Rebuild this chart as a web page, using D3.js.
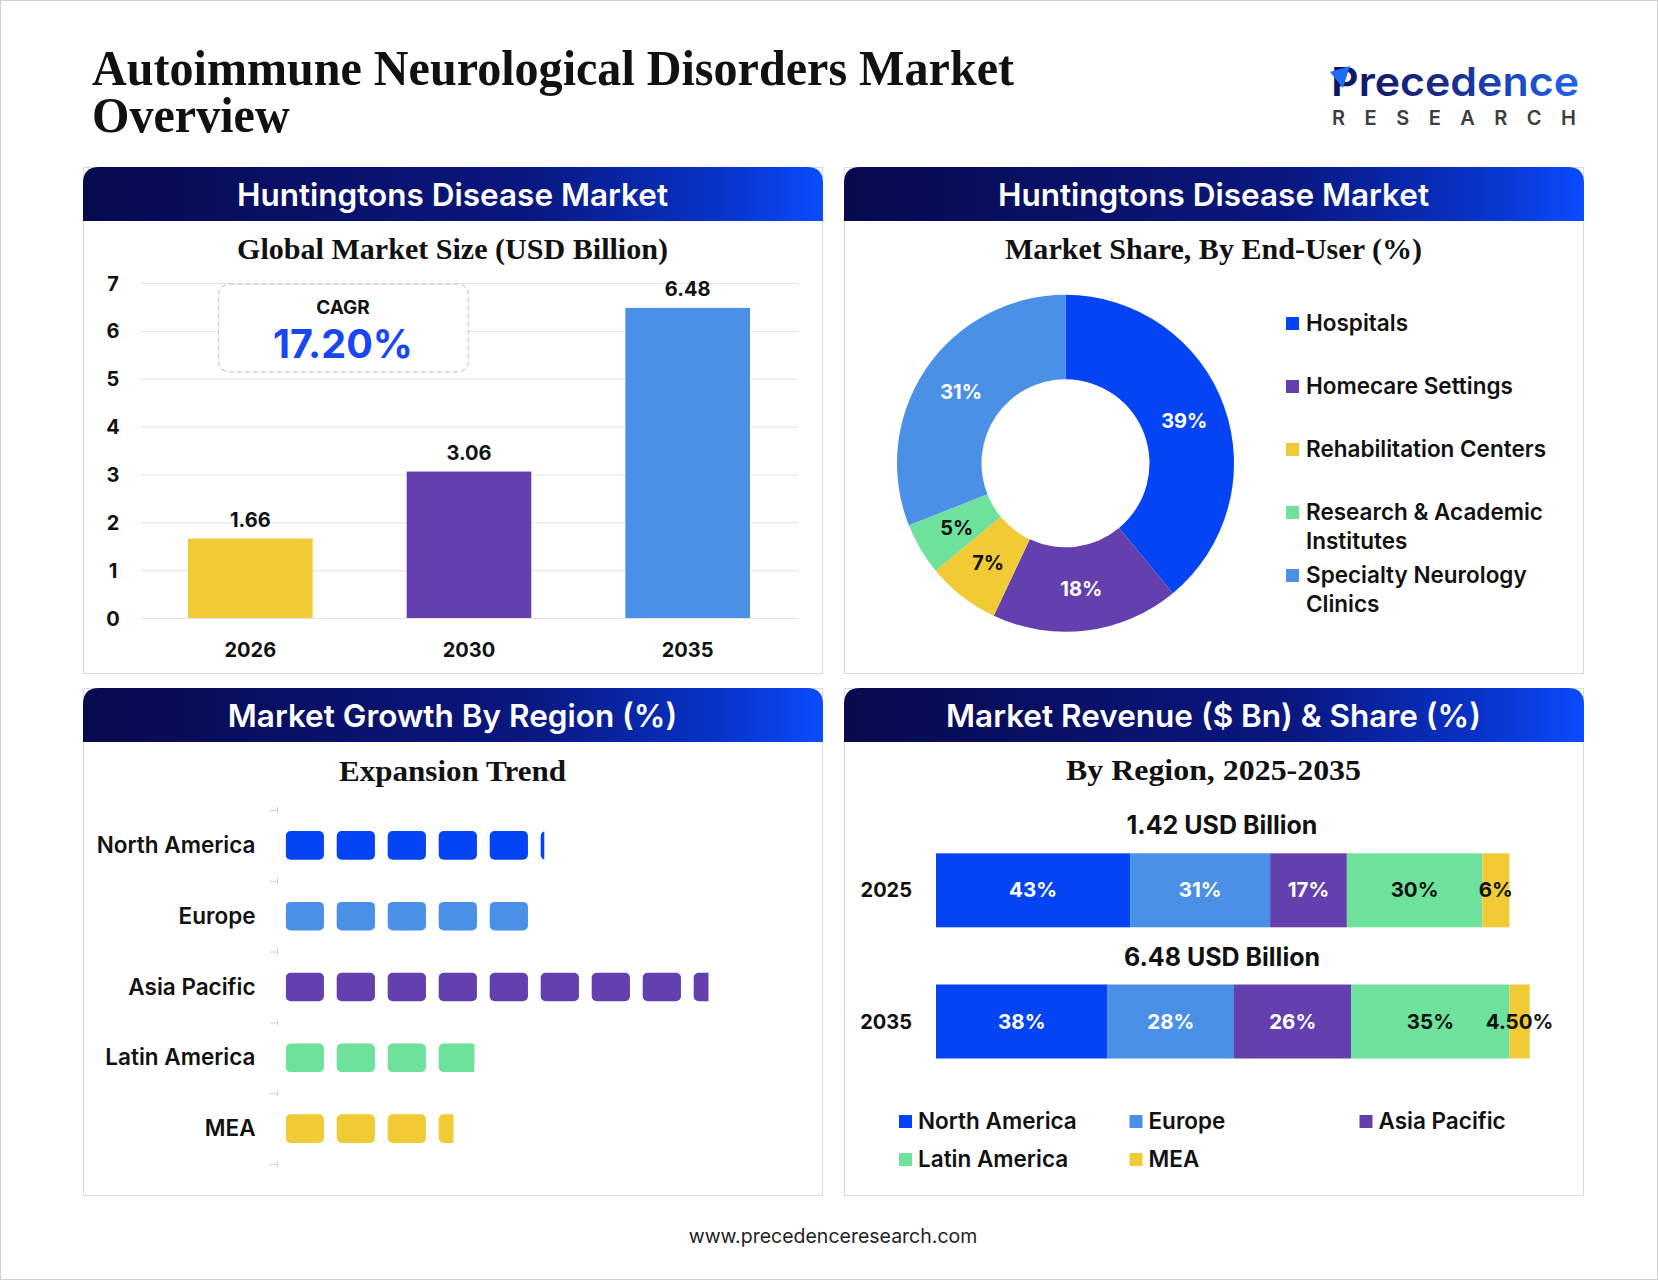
<!DOCTYPE html>
<html><head><meta charset="utf-8">
<script src="https://cdn.jsdelivr.net/npm/d3@7"></script>
<style>body{margin:0;background:#fff}svg{display:block}</style>
</head><body><svg id="c" width="1658" height="1280"></svg>
<script>
// ---------------- DATA ----------------
const mainTitle = ["Autoimmune Neurological Disorders Market", "Overview"];
const panelTitles = ["Huntingtons Disease Market", "Huntingtons Disease Market", "Market Growth By Region (%)", "Market Revenue ($ Bn) & Share (%)"];
const panelSubtitles = ["Global Market Size (USD Billion)", "Market Share, By End-User (%)", "Expansion Trend", "By Region, 2025-2035"];

const marketYears = ["2026", "2030", "2035"];
const marketSize = [1.66, 3.06, 6.48];
const marketTicks = [0, 1, 2, 3, 4, 5, 6, 7];
const cagrLabel = "CAGR";
const cagrValue = "17.20%";

const endUsers = ["Hospitals", "Homecare Settings", "Rehabilitation Centers", "Research & Academic Institutes", "Specialty Neurology Clinics"];
const endUserShare = [39, 18, 7, 5, 31];

const growthRegions = ["North America", "Europe", "Asia Pacific", "Latin America", "MEA"];
const regionGrowth = [5.07, 4.85, 8.29, 3.70, 3.29];

const revenueYears = ["2025", "2035"];
const revenueTotals = ["1.42 USD Billion", "6.48 USD Billion"];
const shareRegions = ["North America", "Europe", "Asia Pacific", "Latin America", "MEA"];
const regionShare2025 = [43, 31, 17, 30, 6];
const regionShare2035 = [38, 28, 26, 35, 4.5];

const footerText = "www.precedenceresearch.com";

// ---------------- STYLES ----------------
const C = {blue: "#0544F5", light: "#4A90E6", purple: "#6340AD", mint: "#6EE29C", yellow: "#F0CB36", dark: "#111"};
const barColors = [C.yellow, C.purple, C.light];
const endUserColors = [C.blue, C.purple, C.yellow, C.mint, C.light];
const endUserTextColors = ["#fff", "#fff", C.dark, C.dark, "#fff"];
const regionColors = [C.blue, C.light, C.purple, C.mint, C.yellow];
const regionTextColors = ["#fff", "#fff", "#fff", C.dark, C.dark];
const SANS = "Inter, 'Open Sans', 'Liberation Sans', sans-serif";
const SERIF = "'Liberation Serif', 'DejaVu Serif', serif";

const svg = d3.select("#c");
const defs = svg.append("defs");

// outer border
svg.append("rect").attr("x", 0.5).attr("y", 0.5).attr("width", 1657).attr("height", 1279)
  .attr("fill", "#fff").attr("stroke", "#d0d0d0");

// ---------------- TITLE ----------------
const t1 = svg.append("text").attr("x", 92).attr("y", 85).attr("font-family", SERIF)
  .attr("font-weight", 700).attr("font-size", 50).attr("fill", "#111").text(mainTitle[0]);
const w1 = t1.node().getComputedTextLength();
const ratio = 922 / w1;
t1.attr("textLength", 922).attr("lengthAdjust", "spacingAndGlyphs");
const t2 = svg.append("text").attr("x", 92).attr("y", 132).attr("font-family", SERIF)
  .attr("font-weight", 700).attr("font-size", 50).attr("fill", "#111").text(mainTitle[1]);
t2.attr("textLength", t2.node().getComputedTextLength() * ratio).attr("lengthAdjust", "spacingAndGlyphs");

// ---------------- LOGO ----------------
const lg = defs.append("linearGradient").attr("id", "logoGrad").attr("x1", 0).attr("x2", 1).attr("y1", 0).attr("y2", 0);
lg.append("stop").attr("offset", 0).attr("stop-color", "#0b1460");
lg.append("stop").attr("offset", 0.45).attr("stop-color", "#1b2a8a");
lg.append("stop").attr("offset", 1).attr("stop-color", "#1f63f0");
svg.append("text").attr("x", 1331).attr("y", 96).attr("font-family", SANS).attr("font-weight", 600)
  .attr("font-size", 40).attr("fill", "url(#logoGrad)").attr("textLength", 248).attr("lengthAdjust", "spacingAndGlyphs")
  .text("Precedence");
svg.append("path").attr("d", "M1330,72 L1350,66 L1343,88 Z").attr("fill", "#1f6df5");
svg.append("text").attr("x", 1332).attr("y", 125).attr("font-family", SANS).attr("font-weight", 600)
  .attr("font-size", 20).attr("fill", "#3d3d3d").attr("textLength", 244).attr("lengthAdjust", "spacing")
  .text("RESEARCH");

// ---------------- PANELS ----------------
const panels = [
  {x: 83, y: 167, w: 739, h: 506},
  {x: 844, y: 167, w: 739, h: 506},
  {x: 83, y: 688, w: 739, h: 507},
  {x: 844, y: 688, w: 739, h: 507}
];
const hg = defs.append("linearGradient").attr("id", "headGrad").attr("x1", 0).attr("x2", 1).attr("y1", 0).attr("y2", 0);
hg.append("stop").attr("offset", 0).attr("stop-color", "#080a4e");
hg.append("stop").attr("offset", 0.6).attr("stop-color", "#0a177f");
hg.append("stop").attr("offset", 0.86).attr("stop-color", "#0833c8");
hg.append("stop").attr("offset", 1).attr("stop-color", "#0a4cff");
const HH = 54, R = 16;
panels.forEach((p, i) => {
  svg.append("rect").attr("x", p.x + 0.5).attr("y", p.y + 0.5).attr("width", p.w).attr("height", p.h)
    .attr("fill", "#fff").attr("stroke", "#dadada");
  const d = `M${p.x},${p.y + HH} L${p.x},${p.y + R} Q${p.x},${p.y} ${p.x + R},${p.y} L${p.x + p.w + 1 - R},${p.y} Q${p.x + p.w + 1},${p.y} ${p.x + p.w + 1},${p.y + R} L${p.x + p.w + 1},${p.y + HH} Z`;
  svg.append("path").attr("d", d).attr("fill", "url(#headGrad)");
  svg.append("text").attr("x", p.x + p.w / 2).attr("y", p.y + 38.5).attr("text-anchor", "middle")
    .attr("font-family", SANS).attr("font-weight", 600).attr("font-size", 31.5).attr("fill", "#fff")
    .text(panelTitles[i]);
});
const subW = [431, 417, 227, 295];
const subY = [259, 259, 781, 780];
panels.forEach((p, i) => {
  svg.append("text").attr("x", p.x + p.w / 2).attr("y", subY[i]).attr("text-anchor", "middle")
    .attr("font-family", SERIF).attr("font-weight", 700).attr("font-size", 29).attr("fill", "#111")
    .attr("textLength", subW[i]).attr("lengthAdjust", "spacingAndGlyphs").text(panelSubtitles[i]);
});

// ---------------- CHART 1: BAR ----------------
const g1 = svg.append("g");
const y1 = d3.scaleLinear().domain([0, 7]).range([618, 283]);
const x1 = d3.scaleBand().domain(marketYears).range([141, 797]).paddingInner(0.43).paddingOuter(0.215);
g1.selectAll(".grid").data(marketTicks).join("line")
  .attr("x1", 141).attr("x2", 798).attr("y1", d => y1(d) + 0.5).attr("y2", d => y1(d) + 0.5)
  .attr("stroke", "#e3e3e3").attr("stroke-width", 1);
g1.selectAll(".tick").data(marketTicks).join("text")
  .attr("x", 113).attr("y", d => y1(d) + 7.5).attr("text-anchor", "middle")
  .attr("font-family", SANS).attr("font-weight", 700).attr("font-size", 20).attr("fill", "#111")
  .text(d => d);
// CAGR box
g1.append("rect").attr("x", 218.5).attr("y", 284).attr("width", 250).attr("height", 88).attr("rx", 11)
  .attr("fill", "#fff").attr("stroke", "#cfcfcf").attr("stroke-width", 1.3).attr("stroke-dasharray", "5,3");
g1.append("text").attr("x", 343).attr("y", 314).attr("text-anchor", "middle").attr("font-family", SANS)
  .attr("font-weight", 700).attr("font-size", 19).attr("fill", "#111").text(cagrLabel);
g1.append("text").attr("x", 343).attr("y", 358).attr("text-anchor", "middle").attr("font-family", SANS)
  .attr("font-weight", 700).attr("font-size", 39.5).attr("fill", "#1747EF").text(cagrValue);
g1.selectAll(".bar").data(marketSize).join("rect")
  .attr("x", (d, i) => x1(marketYears[i])).attr("width", x1.bandwidth())
  .attr("y", d => y1(d)).attr("height", d => y1(0) - y1(d)).attr("fill", (d, i) => barColors[i]);
g1.selectAll(".val").data(marketSize).join("text")
  .attr("x", (d, i) => x1(marketYears[i]) + x1.bandwidth() / 2).attr("y", d => y1(d) - 12)
  .attr("text-anchor", "middle").attr("font-family", SANS).attr("font-weight", 700).attr("font-size", 20)
  .attr("fill", "#111").text(d => d.toFixed(2));
g1.selectAll(".yr").data(marketYears).join("text")
  .attr("x", d => x1(d) + x1.bandwidth() / 2).attr("y", 657).attr("text-anchor", "middle")
  .attr("font-family", SANS).attr("font-weight", 700).attr("font-size", 20).attr("fill", "#111").text(d => d);

// ---------------- CHART 2: DONUT ----------------
const cx2 = 1065.5, cy2 = 463.3;
const pie = d3.pie().sort(null).value(d => d)(endUserShare);
const arc = d3.arc().innerRadius(84).outerRadius(168.5);
const g2 = svg.append("g").attr("transform", `translate(${cx2},${cy2})`);
g2.selectAll("path").data(pie).join("path").attr("d", arc).attr("fill", (d, i) => endUserColors[i]);
g2.selectAll("text").data(pie).join("text")
  .attr("transform", d => `translate(${arc.centroid(d)})`).attr("dy", 7).attr("text-anchor", "middle")
  .attr("font-family", SANS).attr("font-weight", 700).attr("font-size", 20)
  .attr("fill", (d, i) => endUserTextColors[i]).text(d => d.data + "%");
// legend
const legY = [331, 394, 457, 520, 583];
const lg2 = svg.append("g");
endUsers.forEach((name, i) => {
  lg2.append("rect").attr("x", 1286).attr("y", legY[i] - 14).attr("width", 13).attr("height", 13).attr("fill", endUserColors[i]);
  const t = lg2.append("text").attr("x", 1306).attr("y", legY[i]).attr("font-family", SANS)
    .attr("font-weight", 600).attr("font-size", 22.5).attr("fill", "#111");
  const words = name.split(" ");
  let line = [], lines = [];
  const probe = t.append("tspan");
  words.forEach(w => {
    const test = line.concat(w).join(" ");
    probe.text(test);
    if (probe.node().getComputedTextLength() > 272 && line.length) { lines.push(line.join(" ")); line = [w]; }
    else line.push(w);
  });
  lines.push(line.join(" "));
  probe.remove();
  lines.forEach((l, k) => t.append("tspan").attr("x", 1306).attr("dy", k ? 28.5 : 0).text(l));
});

// ---------------- CHART 3: PICTORIAL BARS ----------------
const g3 = svg.append("g");
const y3 = d3.scaleBand().domain(growthRegions).range([810, 1164]);
const x3 = d3.scaleLinear().domain([0, 10]).range([285.7, 285.7 + 510]);
const sqW = (x3(1) - x3(0)) * 0.75, sqH = 28.6;
const tickYs = growthRegions.map(r => y3(r)).concat([y3.range()[1]]);
tickYs.forEach(ty => {
  g3.append("line").attr("x1", 270).attr("x2", 277).attr("y1", ty + 0.5).attr("y2", ty + 0.5).attr("stroke", "#cfcfcf");
  g3.append("line").attr("x1", 277.5).attr("x2", 277.5).attr("y1", ty - 3).attr("y2", ty + 3).attr("stroke", "#cfcfcf");
});
growthRegions.forEach((r, i) => {
  const cy = y3(r) + y3.bandwidth() / 2;
  const v = regionGrowth[i];
  const cid = "clip3_" + i;
  defs.append("clipPath").attr("id", cid).append("rect")
    .attr("x", x3(0)).attr("y", cy - sqH / 2 - 1).attr("width", x3(v) - x3(0)).attr("height", sqH + 2);
  const n = Math.ceil(v);
  g3.append("g").attr("clip-path", `url(#${cid})`).selectAll("rect").data(d3.range(n)).join("rect")
    .attr("x", k => x3(k)).attr("y", cy - sqH / 2).attr("width", sqW).attr("height", sqH)
    .attr("rx", 5).attr("fill", regionColors[i]);
  g3.append("text").attr("x", 255.5).attr("y", cy + 7.5).attr("text-anchor", "end").attr("font-family", SANS)
    .attr("font-weight", 600).attr("font-size", 22.5).attr("fill", "#111").text(r);
});

// ---------------- CHART 4: STACKED BARS ----------------
const g4 = svg.append("g");
const x4 = d3.scaleLinear().domain([0, 140]).range([936, 936 + 140 * 4.515]);
const y4 = d3.scaleBand().domain(revenueYears).range([853.3, 1058.5]).paddingInner(0.436);
const shares = [regionShare2025, regionShare2035];
const fmtPct = v => Number.isInteger(v) ? v + "%" : v.toFixed(2) + "%";
revenueYears.forEach((yr, j) => {
  const vals = shares[j];
  const y0 = y4(yr), bh = y4.bandwidth();
  let acc = 0;
  vals.forEach((v, i) => {
    g4.append("rect").attr("x", x4(acc)).attr("y", y0).attr("width", x4(acc + v) - x4(acc)).attr("height", bh)
      .attr("fill", regionColors[i]);
    acc += v;
  });
  acc = 0;
  vals.forEach((v, i) => {
    g4.append("text").attr("x", (x4(acc) + x4(acc + v)) / 2).attr("y", y0 + bh / 2 + 7).attr("text-anchor", "middle")
      .attr("font-family", SANS).attr("font-weight", 700).attr("font-size", 20.5)
      .attr("fill", regionTextColors[i]).text(fmtPct(v));
    acc += v;
  });
  g4.append("text").attr("x", 912).attr("y", y0 + bh / 2 + 7).attr("text-anchor", "end")
    .attr("font-family", SANS).attr("font-weight", 700).attr("font-size", 20).attr("fill", "#111").text(yr);
  g4.append("text").attr("x", 1222).attr("y", y0 - 19).attr("text-anchor", "middle")
    .attr("font-family", SANS).attr("font-weight", 700).attr("font-size", 25).attr("fill", "#111").text(revenueTotals[j]);
});
// legend
const legCols = [899, 1129.5, 1359.5], legRows = [1129, 1167];
shareRegions.forEach((r, i) => {
  const lx = legCols[i % 3], ly = legRows[Math.floor(i / 3)];
  g4.append("rect").attr("x", lx).attr("y", ly - 14).attr("width", 13).attr("height", 13).attr("fill", regionColors[i]);
  g4.append("text").attr("x", lx + 19).attr("y", ly).attr("font-family", SANS).attr("font-weight", 600)
    .attr("font-size", 22.5).attr("fill", "#111").text(r);
});

// ---------------- FOOTER ----------------
svg.append("text").attr("x", 833).attr("y", 1243).attr("text-anchor", "middle").attr("font-family", SANS)
  .attr("font-size", 19.5).attr("fill", "#222").text(footerText);
</script>
</body></html>
